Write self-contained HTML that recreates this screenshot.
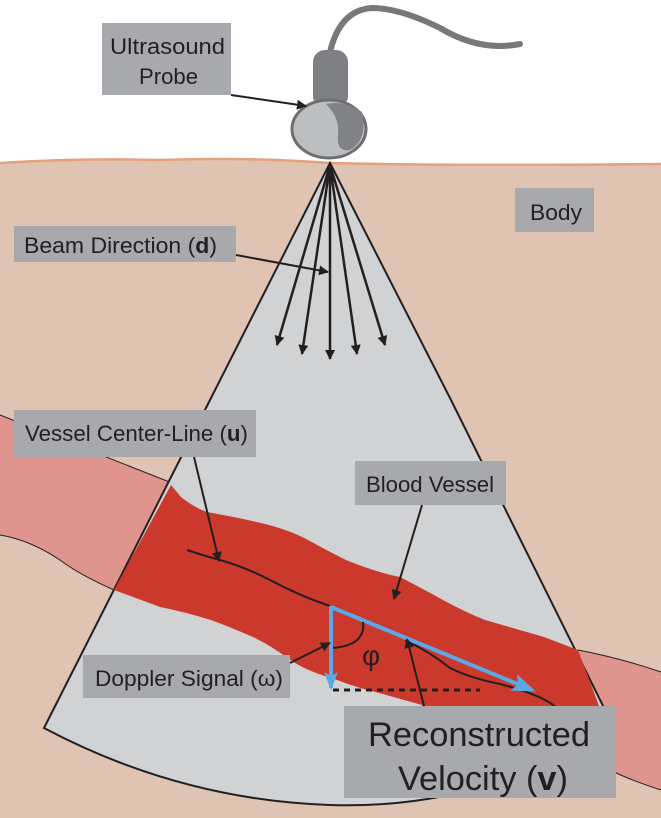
<!DOCTYPE html>
<html><head><meta charset="utf-8"><style>
html,body{margin:0;padding:0;background:#fff}
svg{display:block}
text{font-family:"Liberation Sans",sans-serif;fill:#231f20}
</style></head><body>
<svg width="661" height="818" viewBox="0 0 661 818" xmlns="http://www.w3.org/2000/svg">
<defs>
<marker id="ah" markerWidth="10" markerHeight="10" refX="9" refY="5" orient="auto" markerUnits="userSpaceOnUse"><path d="M0,0 L10,5 L0,10 z" fill="#231f20"/></marker>
<marker id="bh" markerWidth="24" markerHeight="18" refX="20" refY="9" orient="auto" markerUnits="userSpaceOnUse"><path d="M0,0 L24,9 L0,18 L5,9 z" fill="#5aa9e6"/></marker>
<marker id="bh2" markerWidth="18" markerHeight="18" refX="16" refY="9" orient="auto" markerUnits="userSpaceOnUse"><path d="M0,2 L18,9 L0,16 L4,9 z" fill="#5aa9e6"/></marker>
</defs>
<path d="M0,163 Q80,158 160,160 Q250,157 330,163 Q450,166 661,164 L661,818 L0,818 z" fill="#dfc3b3"/>
<path d="M0,163 Q80,158 160,160 Q250,157 330,163 Q450,166 661,164" fill="none" stroke="#e5a07c" stroke-width="2.5"/>
<path d="M0,415 L172,483 L114,590 Q80,575 60,560 Q30,540 0,535 z" fill="#df958d"/>
<path d="M0,415 L172,483 M114,590 Q80,575 60,560 Q30,540 0,535" fill="none" stroke="#231f20" stroke-width="1"/>
<path d="M578,650 Q620,658 661,672 L661,790 Q630,780 610,770 L578,650 z" fill="#df958d"/>
<path d="M578,650 Q620,658 661,672 M661,790 Q630,780 610,770" fill="none" stroke="#231f20" stroke-width="1"/>
<path d="M330,163 L451,400 L615,730 Q480,810 330,805 Q180,800 44,728 L210,400 z" fill="#d1d2d4" stroke="#231f20" stroke-width="2"/>
<path d="M171,485 L181,497 Q195,508 207,512 Q240,518 261,523 Q290,530 308,540 Q330,552 346,560 Q375,572 400,577 Q425,590 443,600 Q465,612 485,620 Q520,630 544,637 L578,650 L610,735 L440,720 Q420,706 422,705 L379,693 Q355,687 337,680 Q310,672 295,663 Q270,645 253,637 Q230,627 211,620 Q185,612 160,607 L114,590 z" fill="#cb382c"/>
<g stroke="#231f20" stroke-width="2.5" fill="none" marker-end="url(#ah)">
<line x1="330" y1="165" x2="277" y2="345"/>
<line x1="330" y1="165" x2="302" y2="354"/>
<line x1="330" y1="165" x2="330" y2="359"/>
<line x1="330" y1="165" x2="357" y2="354"/>
<line x1="330" y1="165" x2="385" y2="345"/>
</g>
<path d="M187,550 Q205,556 220,560 Q245,567 270,580 Q300,596 330,606" fill="none" stroke="#231f20" stroke-width="2"/>
<path d="M405,640 Q430,652 450,668 Q470,678 500,684 Q530,692 545,700 Q555,705 560,712" fill="none" stroke="#231f20" stroke-width="2"/>
<line x1="333" y1="690" x2="480" y2="690" stroke="#231f20" stroke-width="3" stroke-dasharray="6,5"/>
<line x1="331" y1="606" x2="331" y2="688" stroke="#5aa9e6" stroke-width="4" marker-end="url(#bh2)"/>
<line x1="331" y1="607" x2="532" y2="690" stroke="#5aa9e6" stroke-width="4" marker-end="url(#bh)"/>
<path d="M363,622 Q366,645 333,648" fill="none" stroke="#231f20" stroke-width="2"/>
<text x="362" y="665" font-size="28">φ</text>
<path d="M330,52 Q340,10 372,8 Q400,8 440,28 Q480,52 520,44" fill="none" stroke="#77787b" stroke-width="6" stroke-linecap="round"/>
<rect x="313" y="50" width="35" height="58" rx="12" fill="#7f8084"/>
<ellipse cx="329" cy="129" rx="37" ry="29" fill="#bcbec0" stroke="#6d6e71" stroke-width="3"/>
<path d="M326,104 Q345,100 362,112 Q368,140 350,150 Q336,152 338,135 Q340,118 326,104 z" fill="#808285"/>
<g fill="#a7a9ac">
<rect x="102" y="23" width="129" height="72"/>
<rect x="515" y="188" width="79" height="44"/>
<rect x="14" y="226" width="222" height="36"/>
<rect x="14" y="410" width="242" height="47"/>
<rect x="355" y="461" width="151" height="44"/>
<rect x="83" y="655" width="207" height="43"/>
<rect x="344" y="706" width="272" height="92"/>
</g>
<g stroke="#231f20" stroke-width="2" fill="none" marker-end="url(#ah)">
<line x1="231" y1="95" x2="306" y2="106"/>
<line x1="236" y1="255" x2="328" y2="272"/>
<line x1="194" y1="457" x2="219" y2="561"/>
<line x1="422" y1="505" x2="394" y2="599"/>
<line x1="290" y1="663" x2="330" y2="643"/>
<line x1="424" y1="706" x2="407" y2="639"/>
</g>
<text x="110" y="54" font-size="22" textLength="115" lengthAdjust="spacingAndGlyphs">Ultrasound</text>
<text x="139" y="84" font-size="22" textLength="59" lengthAdjust="spacingAndGlyphs">Probe</text>
<text x="530" y="220" font-size="22" textLength="52" lengthAdjust="spacingAndGlyphs">Body</text>
<text x="24" y="253" font-size="22" textLength="193" lengthAdjust="spacingAndGlyphs">Beam Direction (<tspan font-weight="bold">d</tspan>)</text>
<text x="25" y="441" font-size="22" textLength="223" lengthAdjust="spacingAndGlyphs">Vessel Center-Line (<tspan font-weight="bold">u</tspan>)</text>
<text x="366" y="492" font-size="22" textLength="128" lengthAdjust="spacingAndGlyphs">Blood Vessel</text>
<text x="95" y="686" font-size="22" textLength="188" lengthAdjust="spacingAndGlyphs">Doppler Signal (ω)</text>
<text x="368" y="746" font-size="34" textLength="222" lengthAdjust="spacingAndGlyphs">Reconstructed</text>
<text x="398" y="790" font-size="34" textLength="170" lengthAdjust="spacingAndGlyphs">Velocity (<tspan font-weight="bold">v</tspan>)</text>
</svg>
</body></html>
